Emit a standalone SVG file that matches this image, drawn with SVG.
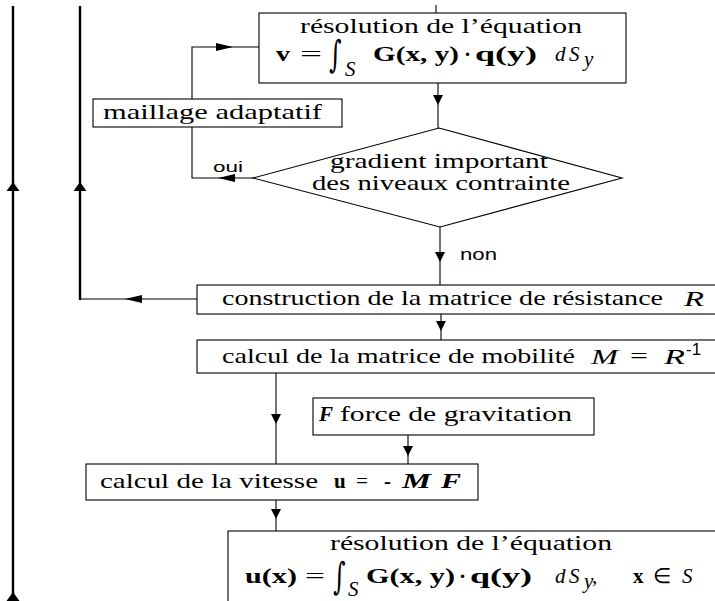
<svg xmlns="http://www.w3.org/2000/svg" width="715" height="601" viewBox="0 0 715 601">
<defs>
<style>
.box{fill:#fff;stroke:#000;stroke-width:1.1}
.ln{fill:none;stroke:#000;stroke-width:1.1}
.thk{fill:none;stroke:#000;stroke-width:2.4}
.t{font-family:"Liberation Serif","Times New Roman",serif;font-size:21px;fill:#000}
.m{font-family:"Liberation Serif","Times New Roman",serif;font-size:21px;fill:#000}
.b{font-weight:bold}
.i{font-style:italic}
.int{font-family:"DejaVu Serif","Liberation Serif",serif;font-size:24px;fill:#000}
.s{font-family:"Liberation Sans",Arial,sans-serif;fill:#000}
</style>
<path id="adn" d="M-5,-10 L5,-10 L0,0 Z" fill="#000"/>
<path id="aup" d="M0,0 L6.5,9 L-6.5,9 Z" fill="#000"/>
<path id="alt" d="M0,0 L17,-4 L17,4 Z" fill="#000"/>
</defs>

<g id="connectors">
  <line class="thk" x1="13" y1="6" x2="13" y2="601"/>
  <use href="#aup" x="13" y="182"/>
  <use href="#aup" x="13" y="592"/>
  <polyline class="thk" points="80,6 80,300"/>
  <line class="ln" x1="80" y1="299" x2="197" y2="299"/>
  <use href="#aup" x="80" y="182"/>
  <use href="#alt" x="125" y="299"/>
  <line class="ln" x1="436" y1="5" x2="436" y2="13"/>
  <polyline class="ln" points="254,178 192,178 192,47 259,47"/>
  <use href="#alt" x="218" y="178"/>
  <use href="#alt" x="233" y="47" transform="rotate(180 233 47)"/>
  <line class="ln" x1="438" y1="83" x2="438" y2="128"/>
  <use href="#adn" x="438" y="105"/>
  <line class="ln" x1="440" y1="227" x2="440" y2="285"/>
  <use href="#adn" x="440" y="262"/>
  <line class="ln" x1="441" y1="314" x2="441" y2="340"/>
  <use href="#adn" x="441" y="331"/>
  <line class="ln" x1="276" y1="373" x2="276" y2="464"/>
  <use href="#adn" x="276" y="424"/>
  <line class="ln" x1="408" y1="435" x2="408" y2="464"/>
  <use href="#adn" x="408" y="456"/>
  <line class="ln" x1="276" y1="500" x2="276" y2="531"/>
  <use href="#adn" x="276" y="519"/>
  <text class="s" x="213" y="172" font-size="15" textLength="30" lengthAdjust="spacingAndGlyphs">oui</text>
  <text class="s" x="460" y="260" font-size="17" textLength="37" lengthAdjust="spacingAndGlyphs">non</text>
</g>

<g id="n-resolution1">
  <rect class="box" x="259" y="13" width="367" height="70"/>
  <text class="t" x="300" y="33" textLength="282" lengthAdjust="spacingAndGlyphs">résolution de l’équation</text>
  <text class="m b" x="276" y="61" textLength="14" lengthAdjust="spacingAndGlyphs">v</text>
  <text class="m" x="300" y="61" textLength="22" lengthAdjust="spacingAndGlyphs">=</text>
  <text class="int i" transform="translate(329,67) scale(1,1.55)">∫</text>
  <text class="m i" x="345" y="76" font-size="16">S</text>
  <text class="m b" x="373" y="61" textLength="86" lengthAdjust="spacingAndGlyphs">G(x,  y)</text>
  <text class="m b" x="464" y="61">·</text>
  <text class="m b" x="475" y="61" textLength="62" lengthAdjust="spacingAndGlyphs">q(y)</text>
  <text class="m i" x="555" y="61">d</text>
  <text class="m i" x="569" y="61">S</text>
  <text class="m i" x="584" y="66" font-size="15">y</text>
</g>

<g id="n-maillage">
  <rect class="box" x="93" y="99" width="249" height="28"/>
  <text class="t" x="103" y="119" textLength="219" lengthAdjust="spacingAndGlyphs">maillage adaptatif</text>
</g>

<g id="n-gradient">
  <polygon class="box" points="439,128 622,178 440,227 253,178"/>
  <text class="t" x="330" y="168" font-size="20" textLength="218" lengthAdjust="spacingAndGlyphs">gradient important</text>
  <text class="t" x="312" y="190" font-size="20" textLength="258" lengthAdjust="spacingAndGlyphs">des niveaux contrainte</text>
</g>

<g id="n-construction">
  <rect class="box" x="197" y="285" width="530" height="29"/>
  <text class="t" x="222" y="305" textLength="441" lengthAdjust="spacingAndGlyphs">construction de la matrice de résistance</text>
  <text class="m i" x="684" y="306" font-size="23" textLength="20" lengthAdjust="spacingAndGlyphs">R</text>
</g>

<g id="n-mobilite">
  <rect class="box" x="197" y="340" width="530" height="33"/>
  <text class="t" x="222" y="363" textLength="353" lengthAdjust="spacingAndGlyphs">calcul de la matrice de mobilité</text>
  <text class="m i" x="591" y="364" font-size="23" textLength="27" lengthAdjust="spacingAndGlyphs">M</text>
  <text class="m" x="630" y="363" textLength="18" lengthAdjust="spacingAndGlyphs">=</text>
  <text class="m i" x="664" y="364" font-size="23" textLength="21" lengthAdjust="spacingAndGlyphs">R</text>
  <text class="s" x="686" y="355" font-size="17">-1</text>
</g>

<g id="n-force">
  <rect class="box" x="313" y="398" width="281" height="37"/>
  <text class="m i b" x="319" y="421">F</text>
  <text class="t" x="340" y="421" textLength="232" lengthAdjust="spacingAndGlyphs">force de gravitation</text>
</g>

<g id="n-vitesse">
  <rect class="box" x="86" y="464" width="392" height="36"/>
  <text class="t" x="100" y="488" textLength="218" lengthAdjust="spacingAndGlyphs">calcul de la vitesse</text>
  <text class="m b" x="334" y="488">u</text>
  <text class="m" x="356" y="488" textLength="12" lengthAdjust="spacingAndGlyphs">=</text>
  <text class="m b" x="384" y="488">-</text>
  <text class="m i b" x="402" y="488" textLength="29" lengthAdjust="spacingAndGlyphs">M</text>
  <text class="m i b" x="441" y="488" textLength="20" lengthAdjust="spacingAndGlyphs">F</text>
</g>

<g id="n-resolution2">
  <rect class="box" x="228" y="531" width="499" height="80"/>
  <text class="t" x="330" y="550" textLength="282" lengthAdjust="spacingAndGlyphs">résolution de l’équation</text>
  <text class="m b" x="245" y="583" textLength="52" lengthAdjust="spacingAndGlyphs">u(x)</text>
  <text class="m" x="305" y="583" textLength="20" lengthAdjust="spacingAndGlyphs">=</text>
  <text class="int i" transform="translate(333,589) scale(1,1.55)">∫</text>
  <text class="m i" x="348" y="596" font-size="16">S</text>
  <text class="m b" x="366" y="583" textLength="89" lengthAdjust="spacingAndGlyphs">G(x,  y)</text>
  <text class="m b" x="459" y="583">·</text>
  <text class="m b" x="470" y="583" textLength="62" lengthAdjust="spacingAndGlyphs">q(y)</text>
  <text class="m i" x="555" y="583">d</text>
  <text class="m i" x="569" y="583">S</text>
  <text class="m i" x="584" y="588" font-size="15">y</text>
  <text class="m" x="592" y="583">,</text>
  <text class="m b" x="633" y="583">x</text>
  <text class="m" x="653" y="583">∈</text>
  <text class="m i" x="682" y="583">S</text>
</g>
</svg>
